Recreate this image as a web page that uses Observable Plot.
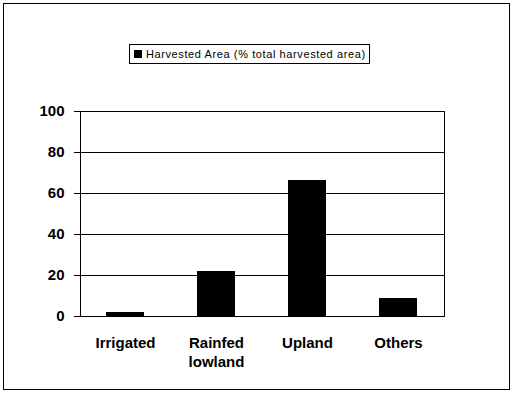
<!DOCTYPE html>
<html>
<head>
<meta charset="utf-8">
<script src="https://cdn.jsdelivr.net/npm/d3@7"></script>
<script src="https://cdn.jsdelivr.net/npm/@observablehq/plot@0.6"></script>
<style>
  html, body { margin: 0; padding: 0; background: #fff; }
  body { width: 512px; height: 394px; position: relative; font-family: "Liberation Sans", Arial, sans-serif; }
  #wrap { position: absolute; left: 3px; top: 3px; width: 505px; height: 385px; border: 1px solid #000; background: #fff; }
  #legend { position: absolute; left: 125px; top: 40px; width: 239px; height: 18px; border: 1px solid #000;
    display: flex; align-items: center; font-size: 11px; letter-spacing: 0.6px; color: #000; white-space: nowrap; }
  #legend .sw { display: inline-block; width: 8px; height: 8px; background: #000; margin: 0 4px 0 4px; }
  #chart { position: absolute; left: 0; top: 86px; }
  #chart svg { display: block; shape-rendering: crispEdges; }
  #chart svg text { shape-rendering: auto; }
</style>
</head>
<body>
<div id="wrap">
  <div id="legend"><span class="sw"></span><span id="legendText"></span></div>
  <div id="chart"></div>
</div>
<script>
const categories = ["Irrigated", "Rainfed lowland", "Upland", "Others"];
const categoryLabels = ["Irrigated", "Rainfed\nlowland", "Upland", "Others"];
const harvestedArea = [2, 22, 66.5, 9];
const yTicks = [0, 20, 40, 60, 80, 100];
const seriesName = "Harvested Area (% total harvested area)";

document.getElementById("legendText").textContent = seriesName;

const data = categories.map((c, i) => ({category: c, value: harvestedArea[i]}));
const labelOf = new Map(categories.map((c, i) => [c, categoryLabels[i]]));

const boundaryTicks = Plot.ruleX([0], {
  render: (index, scales, values, dimensions) => {
    const x = scales.x;
    const step = x.step();
    const off = (step - x.bandwidth()) / 2;
    const xs = categories.map(c => x(c) - off);
    xs.push(x(categories[categories.length - 1]) + x.bandwidth() + off);
    const y0 = dimensions.height - dimensions.marginBottom;
    const g = d3.create("svg:g");
    for (const xv of xs) {
      g.append("line")
        .attr("x1", Math.round(xv) + 0.5).attr("x2", Math.round(xv) + 0.5)
        .attr("y1", y0).attr("y2", y0 + 6)
        .attr("stroke", "#000").attr("stroke-width", 1);
    }
    return g.node();
  }
});

const chart = Plot.plot({
  width: 505,
  height: 300,
  marginLeft: 76,
  marginRight: 65,
  marginTop: 21,
  marginBottom: 74,
  style: {fontFamily: "'Liberation Sans', Arial, sans-serif", color: "#000", background: "transparent"},
  x: {domain: categories, paddingInner: 0.582, paddingOuter: 0.291, label: null},
  y: {domain: [0, 100], label: null},
  marks: [
    Plot.gridY(yTicks.filter(t => t > 0), {stroke: "#000", strokeOpacity: 1, strokeWidth: 1}),
    Plot.barY(data, {x: "category", y: "value", fill: "#000"}),
    Plot.frame({stroke: "#000", strokeWidth: 1}),
    Plot.axisY({ticks: yTicks, tickSize: 6, tickPadding: 10, fontSize: 15, fontWeight: "bold", label: null}),
    Plot.axisX({tickSize: 0, tickPadding: 18, fontSize: 15, fontWeight: "bold", lineHeight: 1.27, tickFormat: d => labelOf.get(d), label: null, style: {letterSpacing: "0.5px"}}),
    boundaryTicks
  ]
});
document.getElementById("chart").appendChild(chart);
</script>
</body>
</html>
